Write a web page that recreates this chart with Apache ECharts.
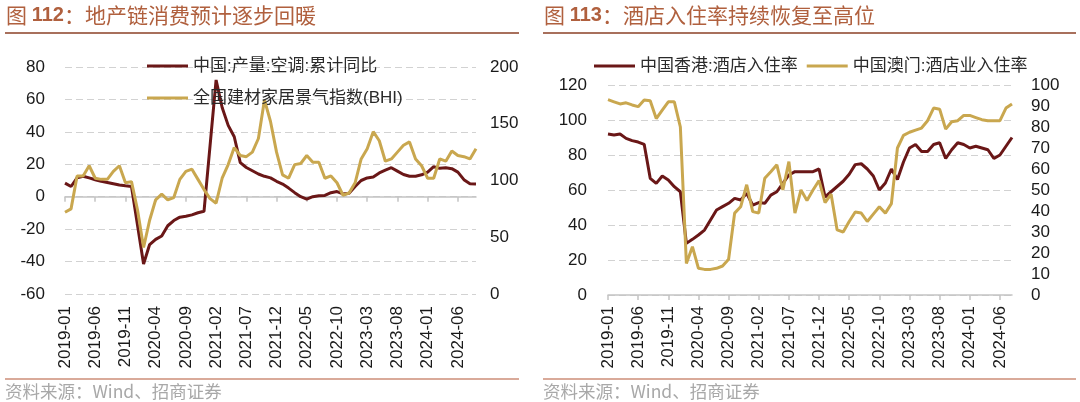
<!DOCTYPE html>
<html lang="zh-CN">
<head>
<meta charset="UTF-8"/>
<title>地产链消费 / 酒店入住率</title>
<script src="https://cdn.jsdelivr.net/npm/echarts@6/dist/echarts.min.js"></script>
<style>
    html, body { margin: 0; padding: 0; background: #fff; }
    #main { width: 1080px; height: 402px; }
</style>
</head>
<body>
<div id="main"></div>
<script>
    // 月份 2019-01 ~ 2024-09
    var months = [
        '2019-01','2019-02','2019-03','2019-04','2019-05','2019-06','2019-07','2019-08','2019-09','2019-10','2019-11','2019-12',
        '2020-01','2020-02','2020-03','2020-04','2020-05','2020-06','2020-07','2020-08','2020-09','2020-10','2020-11','2020-12',
        '2021-01','2021-02','2021-03','2021-04','2021-05','2021-06','2021-07','2021-08','2021-09','2021-10','2021-11','2021-12',
        '2022-01','2022-02','2022-03','2022-04','2022-05','2022-06','2022-07','2022-08','2022-09','2022-10','2022-11','2022-12',
        '2023-01','2023-02','2023-03','2023-04','2023-05','2023-06','2023-07','2023-08','2023-09','2023-10','2023-11','2023-12',
        '2024-01','2024-02','2024-03','2024-04','2024-05','2024-06','2024-07','2024-08','2024-09'
    ];
    // 酒店入住率只到 2024-08
    var monthsHotel = months.slice(0, 68);

    // 中国:产量:空调:累计同比 (%)，1月无数据
    var acYoy = [
        8.4, 6.3, 11.6, 12.6, 11.6, 10.5, 9.5, 8.8, 8, 7.2, 6.7, 6.3,
        null, -41.5, -29.5, -26.3, -24.2, -17.9, -14.7, -12.6, -12, -11.2, -9.9, -9,
        null, 72, 55, 44, 37, 21, 18, 16, 14, 12.6, 11.6, 9.5,
        7.8, 5.3, 2.5, 0, -1.5, 0, 0.6, 0.8, 2.5, 3.2, 1.7, 2.1,
        6.3, 10, 11.6, 12.2, 14.7, 16.4, 17.9, 15.8, 13.7, 12.6, 12.6, 13.5,
        15.2, 18.5, 17.5, 17.9, 17.3, 15.2, 10.5, 8, 7.8
    ];
    // 全国建材家居景气指数(BHI)
    var bhi = [
        72, 75, 104, 104, 113, 102, 101, 101, 108, 113, 98, 99,
        74, 41, 65, 83, 88, 83, 85, 101, 108, 110, 101, 92,
        84, 80, 102, 114, 129, 122, 121, 125, 137, 171, 152, 125,
        105, 102, 114, 115, 122, 116, 116, 102, 104, 98, 87, 89,
        98, 119, 128, 143, 135, 117, 119, 125, 131, 134, 119, 113,
        102, 102, 119, 117, 126, 122, 121, 119, 128
    ];
    // 中国香港:酒店入住率
    var hkRate = [
        92, 91.4, 92, 89.5, 88.2, 87.4, 86.1, 66.7, 63.8, 68, 65.7, 61.9,
        59, 29.5, 31.8, 34.3, 37.1, 42.9, 48.6, 50.5, 52.4, 55.2, 54.3, 58.1,
        51.4, 52.8, 52.4, 57.1, 59, 63.8, 68.6, 70.5, 70.5, 70.5, 70.5, 72,
        56, 59, 62, 65, 69, 74.5, 75, 72, 68, 60, 64, 72,
        66, 76, 84, 86, 82, 82, 86, 87, 78, 83, 87, 86,
        84, 85, 84, 83, 78, 80, 85, 90
    ];
    // 中国澳门:酒店业入住率
    var mcRate = [
        93, 92, 91, 91.5, 90.5, 89.7, 92.9, 92.5, 84, 88, 92, 92,
        80, 15, 23, 12.7, 12.2, 12.2, 12.7, 13.8, 17, 39, 42, 52.5,
        39.7, 39, 55.6, 58.7, 62, 50, 63.5, 39, 50, 45, 50, 54.5,
        44, 48, 31, 30, 35, 39.5, 39, 35, 38.5, 42, 39, 43.5,
        70, 76, 77.5, 78.5, 79.5, 83, 89, 88.5, 79, 82.5, 83, 85.5,
        85.5, 84.5, 83.5, 83, 83, 83, 89, 91
    ];

    // 坐标轴刻度
    var ticksAcYoy = [-60, -40, -20, 0, 20, 40, 60, 80];
    var ticksBhi = [0, 50, 100, 150, 200];
    var ticksHk = [0, 20, 40, 60, 80, 100, 120];
    var ticksMc = [0, 10, 20, 30, 40, 50, 60, 70, 80, 90, 100];

    var RED = '#6a1717';
    var GOLD = '#c9a74f';
    var NUM_FONT = "'Liberation Sans', 'Noto Sans CJK SC', sans-serif";
    var CJK_FONT = "'Noto Sans CJK SC', sans-serif";
    var GRID_LINE = { show: true, lineStyle: { color: '#d2d2d2', type: [7, 4], width: 1 } };
    var AXIS_GRAY = '#c4c4c4';

    function valueAxis(ticks, gridIndex, pos, margin, withSplit) {
        return {
            type: 'value',
            gridIndex: gridIndex,
            position: pos,
            min: ticks[0],
            max: ticks[ticks.length - 1],
            interval: ticks[1] - ticks[0],
            axisLine: { show: false },
            axisTick: { show: false },
            axisLabel: { color: '#1a1a1a', fontSize: 17, fontFamily: NUM_FONT, margin: margin },
            splitLine: withSplit ? GRID_LINE : { show: false }
        };
    }

    // 只负责底部的日期标签
    function labelAxis(cats, gridIndex, margin) {
        return {
            type: 'category',
            gridIndex: gridIndex,
            position: 'bottom',
            data: cats,
            boundaryGap: false,
            axisLine: { show: false, onZero: false },
            axisTick: { show: false },
            axisLabel: {
                interval: 4, rotate: 90, margin: margin,
                color: '#1a1a1a', fontSize: 17, fontFamily: NUM_FONT
            },
            splitLine: { show: false }
        };
    }

    // 只负责 0 值处的轴线和刻度
    function lineAxis(cats, gridIndex, zeroAxis) {
        return {
            type: 'category',
            gridIndex: gridIndex,
            position: 'bottom',
            data: cats,
            boundaryGap: false,
            axisLine: { show: true, onZero: true, onZeroAxisIndex: zeroAxis, lineStyle: { color: AXIS_GRAY, width: 1.5 } },
            axisTick: { show: true, interval: 4, length: 5, lineStyle: { color: AXIS_GRAY, width: 1.5 } },
            axisLabel: { show: false },
            splitLine: { show: false }
        };
    }

    var chart = echarts.init(document.getElementById('main'));
    chart.setOption({
        animation: false,
        backgroundColor: '#fff',
        title: [{
            text: '图 {b|112}：地产链消费预计逐步回暖',
            left: 6, top: 5, padding: 0,
            textStyle: {
                fontSize: 21, fontWeight: 'normal', color: '#b0603e', fontFamily: CJK_FONT,
                rich: { b: { fontSize: 20, fontWeight: 'bold', color: '#b0603e', fontFamily: NUM_FONT } }
            }
        }, {
            text: '图 {b|113}：酒店入住率持续恢复至高位',
            left: 544, top: 5, padding: 0,
            textStyle: {
                fontSize: 21, fontWeight: 'normal', color: '#b0603e', fontFamily: CJK_FONT,
                rich: { b: { fontSize: 20, fontWeight: 'bold', color: '#b0603e', fontFamily: NUM_FONT } }
            }
        }],
        graphic: [
            { type: 'line', shape: { x1: 5, y1: 33, x2: 519, y2: 33 }, style: { stroke: '#a8705c', lineWidth: 2 } },
            { type: 'line', shape: { x1: 543, y1: 33, x2: 1076, y2: 33 }, style: { stroke: '#a8705c', lineWidth: 2 } },
            { type: 'line', shape: { x1: 5, y1: 379, x2: 519, y2: 379 }, style: { stroke: '#d9aa9a', lineWidth: 2 } },
            { type: 'line', shape: { x1: 543, y1: 379, x2: 1076, y2: 379 }, style: { stroke: '#d9aa9a', lineWidth: 2 } },
            { type: 'text', left: 5, top: 383, style: { text: '资料来源：Wind、招商证券', fill: '#a8a8a8', fontSize: 17.5, fontFamily: CJK_FONT } },
            { type: 'text', left: 543, top: 383, style: { text: '资料来源：Wind、招商证券', fill: '#a8a8a8', fontSize: 17.5, fontFamily: CJK_FONT } }
        ],
        legend: [{
            orient: 'vertical',
            left: 142, top: 51,
            icon: 'rect', itemWidth: 41, itemHeight: 3, itemGap: 12,
            textStyle: { fontSize: 17, color: '#2a2a2a', fontFamily: NUM_FONT, lineHeight: 20 },
            data: ['中国:产量:空调:累计同比', '全国建材家居景气指数(BHI)']
        }, {
            orient: 'horizontal',
            left: 589, top: 51,
            icon: 'rect', itemWidth: 41, itemHeight: 3, itemGap: 9,
            textStyle: { fontSize: 17, color: '#2a2a2a', fontFamily: NUM_FONT, lineHeight: 20 },
            data: ['中国香港:酒店入住率', '中国澳门:酒店业入住率']
        }],
        grid: [
            { left: 65, right: 604, top: 67, bottom: 108 },
            { left: 608, right: 68, top: 85, bottom: 107 }
        ],
        xAxis: [
            labelAxis(months, 0, 12),
            lineAxis(months, 0, 0),
            labelAxis(monthsHotel, 1, 11),
            lineAxis(monthsHotel, 1, 2)
        ],
        yAxis: [
            valueAxis(ticksAcYoy, 0, 'left', 20, true),
            valueAxis(ticksBhi, 0, 'right', 14, false),
            valueAxis(ticksHk, 1, 'left', 21, true),
            valueAxis(ticksMc, 1, 'right', 19, false)
        ],
        series: [{
            name: '中国:产量:空调:累计同比',
            type: 'line', xAxisIndex: 0, yAxisIndex: 0,
            data: acYoy, connectNulls: true, symbol: 'none',
            lineStyle: { color: RED, width: 3 }, itemStyle: { color: RED }
        }, {
            name: '全国建材家居景气指数(BHI)',
            type: 'line', xAxisIndex: 0, yAxisIndex: 1,
            data: bhi, symbol: 'none',
            lineStyle: { color: GOLD, width: 3 }, itemStyle: { color: GOLD }
        }, {
            name: '中国香港:酒店入住率',
            type: 'line', xAxisIndex: 2, yAxisIndex: 2,
            data: hkRate, symbol: 'none',
            lineStyle: { color: RED, width: 3 }, itemStyle: { color: RED }
        }, {
            name: '中国澳门:酒店业入住率',
            type: 'line', xAxisIndex: 2, yAxisIndex: 3,
            data: mcRate, symbol: 'none',
            lineStyle: { color: GOLD, width: 3 }, itemStyle: { color: GOLD }
        }]
    });
</script>
</body>
</html>
